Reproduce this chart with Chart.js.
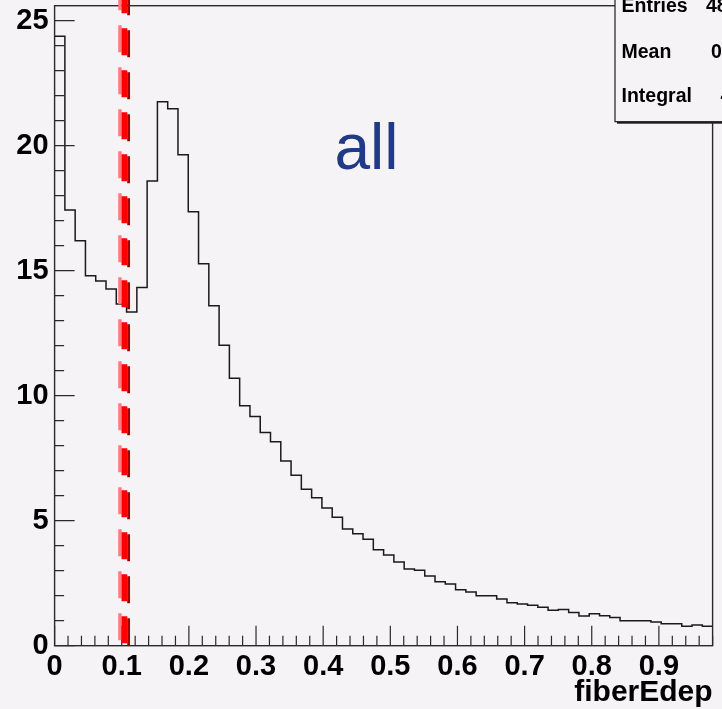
<!DOCTYPE html>
<html>
<head>
<meta charset="utf-8">
<script src="https://cdn.jsdelivr.net/npm/chart.js@4/dist/chart.umd.min.js"></script>
<style>
  html, body { margin: 0; padding: 0; background: #f6f3f6; }
  canvas { display: block; }
</style>
</head>
<body>
<canvas id="c" width="722" height="709"></canvas>
<script>
// ---- data ----
const binLow = 0;
const binHigh = 0.98;
const binCounts = [
  24.38, 17.43, 16.2, 14.8, 14.59, 14.27, 13.67, 13.35,
  14.33, 18.59, 21.76, 21.48, 19.64, 17.36, 15.28, 13.6,
  12.02, 10.7, 9.6, 9.17, 8.53, 8.16, 7.39, 6.82,
  6.26, 5.92, 5.51, 5.14, 4.67, 4.48, 4.26, 3.84,
  3.63, 3.35, 3.07, 3.02, 2.79, 2.56, 2.47, 2.24,
  2.15, 2.0, 2.0, 1.87, 1.72, 1.67, 1.62, 1.54,
  1.42, 1.45, 1.33, 1.19, 1.28, 1.2, 1.13, 1.0,
  1.0, 1.0, 0.95, 0.88, 0.88, 0.78, 0.83, 0.78
];
const xAxisMax = 0.98;
const yAxisMax = 25.6;
const xMajorStep = 0.1;
const xMinorStep = 0.02;
const yMajorStep = 5;
const yMinorStep = 1;
const cutValue = 0.104;
const xTitle = 'fiberEdep';
const annotation = 'all';
const statLabels = ['Entries', 'Mean', 'Integral'];
const statValues = ['48213', '0.2871', '402.6'];

// ---- build histogram outline points ----
const nBins = binCounts.length;
const binWidth = (binHigh - binLow) / nBins;
const outline = binCounts.map((v, i) => ({ x: binLow + i * binWidth, y: v }));
outline.push({ x: binHigh, y: binCounts[nBins - 1] });

const BG = '#f6f3f6';
const tickFont = { family: "'Liberation Sans', Arial, sans-serif", size: 29, weight: 'bold' };

const overlay = {
  id: 'overlay',
  afterDraw(chart) {
    const { ctx, chartArea: a, scales } = chart;
    const xs = scales.x, ys = scales.y;
    ctx.save();
    // frame
    ctx.strokeStyle = '#2a2a2a';
    ctx.lineWidth = 1.4;
    ctx.strokeRect(a.left, a.top, a.right - a.left, a.bottom - a.top);
    // x ticks (inward)
    ctx.beginPath();
    const nx = Math.round(xAxisMax / xMinorStep);
    const perMajorX = Math.round(xMajorStep / xMinorStep);
    for (let i = 0; i <= nx; i++) {
      const px = xs.getPixelForValue(i * xMinorStep);
      const len = (i % perMajorX === 0) ? 20 : 10;
      ctx.moveTo(px, a.bottom);
      ctx.lineTo(px, a.bottom - len);
    }
    // y ticks (inward)
    const ny = Math.floor(yAxisMax / yMinorStep);
    const perMajorY = Math.round(yMajorStep / yMinorStep);
    for (let i = 0; i <= ny; i++) {
      const py = ys.getPixelForValue(i * yMinorStep);
      const len = (i % perMajorY === 0) ? 20 : 9.5;
      ctx.moveTo(a.left, py);
      ctx.lineTo(a.left + len, py);
    }
    ctx.lineWidth = 1.2;
    ctx.stroke();

    // red dashed cut line with shading
    const cx = xs.getPixelForValue(cutValue);
    const yb = ys.getPixelForValue(0) - 2.5;
    ctx.setLineDash([27, 15]);
    ctx.lineCap = 'butt';
    const strokes = [
      { dx: 4.2, dy: 2, w: 2.8, c: '#a30000' },
      { dx: -4.5, dy: -3, w: 3.4, c: '#ff7c7c' },
      { dx: 0, dy: 0, w: 5.8, c: '#ff0000' }
    ];
    strokes.forEach(s => {
      ctx.beginPath();
      ctx.moveTo(cx + s.dx, yb + s.dy);
      ctx.lineTo(cx + s.dx, -20);
      ctx.strokeStyle = s.c;
      ctx.lineWidth = s.w;
      ctx.stroke();
    });
    ctx.setLineDash([]);

    // stats box
    const bx = 615, by = -10, bw = 140, bh = 131.7;
    ctx.fillStyle = '#1e1e1e';
    ctx.fillRect(bx + 2, by + 2, bw, bh);
    ctx.fillStyle = BG;
    ctx.fillRect(bx, by, bw, bh);
    ctx.strokeStyle = '#1e1e1e';
    ctx.lineWidth = 1.2;
    ctx.strokeRect(bx, by, bw, bh);
    ctx.fillStyle = '#000';
    ctx.font = "bold 19.5px 'Liberation Sans', Arial, sans-serif";
    ctx.textBaseline = 'alphabetic';
    ctx.textAlign = 'left';
    const rows = [11.7, 58, 102];
    const valX = [706, 711, 720.5];
    statLabels.forEach((t, i) => {
      ctx.fillText(t, 621.5, rows[i]);
      ctx.fillText(statValues[i], valX[i], rows[i]);
    });

    // axis title
    ctx.font = "bold 30px 'Liberation Sans', Arial, sans-serif";
    ctx.textAlign = 'right';
    ctx.fillText(xTitle, a.right, 701);

    // annotation
    ctx.font = "64px 'Liberation Sans', Arial, sans-serif";
    ctx.textAlign = 'left';
    ctx.fillStyle = '#213a88';
    ctx.fillText(annotation, 334.4, 169);
    ctx.restore();
  }
};

new Chart(document.getElementById('c'), {
  type: 'line',
  data: {
    datasets: [{
      data: outline,
      stepped: 'before',
      borderColor: '#1a1a1a',
      borderWidth: 1.5,
      pointRadius: 0,
      fill: false,
      tension: 0
    }]
  },
  options: {
    responsive: false,
    animation: false,
    events: [],
    layout: { padding: { top: 5.7, right: 9.4, left: 0, bottom: 0 } },
    plugins: { legend: { display: false }, tooltip: { enabled: false } },
    scales: {
      x: {
        type: 'linear',
        min: 0,
        max: xAxisMax,
        afterFit: s => { s.height = 63.3; s.paddingLeft = 0; s.paddingRight = 0; },
        grid: { display: false, drawTicks: false },
        border: { display: false },
        ticks: {
          stepSize: xMajorStep,
          includeBounds: false,
          autoSkip: false,
          maxRotation: 0,
          padding: 4,
          color: '#000',
          font: tickFont,
          callback: v => String(Math.round(v * 10) / 10)
        }
      },
      y: {
        min: 0,
        max: yAxisMax,
        afterFit: s => { s.width = 54.6; s.paddingTop = 0; s.paddingBottom = 0; },
        grid: { display: false, drawTicks: false },
        border: { display: false },
        ticks: {
          stepSize: yMajorStep,
          includeBounds: false,
          autoSkip: false,
          padding: 6,
          color: '#000',
          font: tickFont,
          callback: v => String(Math.round(v))
        }
      }
    }
  },
  plugins: [overlay]
});
</script>
</body>
</html>
